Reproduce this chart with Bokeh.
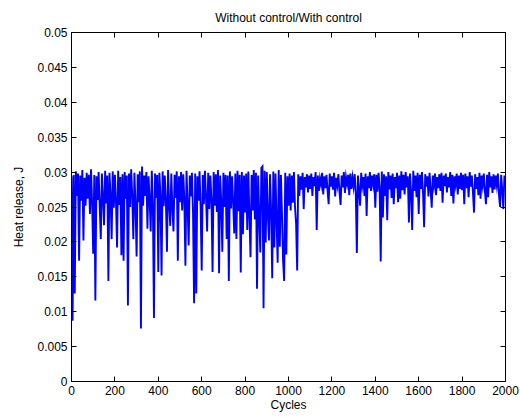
from bokeh.plotting import figure
from bokeh.models import Range1d, FixedTicker, LinearAxis, CustomJSTickFormatter
from bokeh.embed import file_html
from bokeh.resources import INLINE

heat_release = [
    # 0-95
    0.0294, 0.0087, 0.0296, 0.0126, 0.0301, 0.0266, 0.0298, 0.0173, 0.0295, 0.0259,
    0.0303, 0.0202, 0.0292, 0.0252, 0.0299, 0.0262, 0.0296, 0.0240, 0.0304, 0.0256,
    # 100-195
    0.0183, 0.0296, 0.0116, 0.0294, 0.0260, 0.0300, 0.0251, 0.0204, 0.0298, 0.0264,
    0.0224, 0.0302, 0.0255, 0.0295, 0.0144, 0.0299, 0.0267, 0.0204, 0.0301, 0.0249,
    # 200-295
    0.0296, 0.0258, 0.0192, 0.0302, 0.0253, 0.0293, 0.0181, 0.0297, 0.0173, 0.0300,
    0.0262, 0.0295, 0.0109, 0.0298, 0.0250, 0.0304, 0.0265, 0.0204, 0.0299, 0.0254,
    # 300-395
    0.0179, 0.0297, 0.0257, 0.0301, 0.0076, 0.0308, 0.0252, 0.0295, 0.0266, 0.0300,
    0.0219, 0.0294, 0.0261, 0.0215, 0.0302, 0.0255, 0.0091, 0.0298, 0.0263, 0.0296,
    # 400-495
    0.0157, 0.0299, 0.0266, 0.0152, 0.0301, 0.0251, 0.0295, 0.0259, 0.0186, 0.0303,
    0.0256, 0.0223, 0.0298, 0.0248, 0.0215, 0.0296, 0.0263, 0.0301, 0.0173, 0.0294,
    # 500-595
    0.0257, 0.0300, 0.0245, 0.0297, 0.0261, 0.0166, 0.0302, 0.0253, 0.0195, 0.0295,
    0.0265, 0.0299, 0.0242, 0.0112, 0.0298, 0.0126, 0.0294, 0.0259, 0.0301, 0.0250,
    # 600-695
    0.0159, 0.0296, 0.0254, 0.0302, 0.0263, 0.0215, 0.0299, 0.0247, 0.0295, 0.0260,
    0.0157, 0.0300, 0.0252, 0.0297, 0.0243, 0.0303, 0.0155, 0.0295, 0.0258, 0.0186,
    # 700-795
    0.0299, 0.0250, 0.0296, 0.0204, 0.0295, 0.0144, 0.0301, 0.0248, 0.0294, 0.0256,
    0.0212, 0.0298, 0.0204, 0.0302, 0.0244, 0.0296, 0.0156, 0.0300, 0.0211, 0.0295,
    # 800-895
    0.0242, 0.0298, 0.0217, 0.0301, 0.0236, 0.0178, 0.0296, 0.0245, 0.0303, 0.0232,
    0.0299, 0.0133, 0.0295, 0.0239, 0.0185, 0.0306, 0.0308, 0.0105, 0.0302, 0.0199,
    # 900-995
    0.0300, 0.0237, 0.0202, 0.0297, 0.0243, 0.0148, 0.0301, 0.0192, 0.0298, 0.0231,
    0.0170, 0.0303, 0.0193, 0.0296, 0.0240, 0.0173, 0.0144, 0.0299, 0.0182, 0.0294,
    # 1000-1095
    0.0252, 0.0298, 0.0245, 0.0295, 0.0256, 0.0300, 0.0250, 0.0226, 0.0159, 0.0297,
    0.0266, 0.0294, 0.0275, 0.0299, 0.0247, 0.0293, 0.0278, 0.0297, 0.0271, 0.0295,
    # 1100-1195
    0.0276, 0.0298, 0.0266, 0.0293, 0.0280, 0.0300, 0.0217, 0.0295, 0.0273, 0.0291,
    0.0282, 0.0299, 0.0268, 0.0294, 0.0277, 0.0296, 0.0274, 0.0254, 0.0298, 0.0279,
    # 1200-1295
    0.0294, 0.0275, 0.0299, 0.0265, 0.0292, 0.0281, 0.0297, 0.0272, 0.0253, 0.0295,
    0.0278, 0.0300, 0.0270, 0.0293, 0.0283, 0.0296, 0.0267, 0.0298, 0.0276, 0.0292,
    # 1300-1395
    0.0279, 0.0297, 0.0271, 0.0184, 0.0295, 0.0275, 0.0252, 0.0299, 0.0281, 0.0293,
    0.0266, 0.0298, 0.0237, 0.0294, 0.0277, 0.0300, 0.0273, 0.0295, 0.0282, 0.0297,
    # 1400-1495
    0.0249, 0.0296, 0.0272, 0.0299, 0.0279, 0.0172, 0.0301, 0.0235, 0.0297, 0.0266,
    0.0294, 0.0231, 0.0300, 0.0275, 0.0295, 0.0263, 0.0298, 0.0254, 0.0293, 0.0277,
    # 1500-1595
    0.0299, 0.0257, 0.0295, 0.0262, 0.0301, 0.0274, 0.0296, 0.0268, 0.0300, 0.0278,
    0.0294, 0.0228, 0.0298, 0.0271, 0.0217, 0.0302, 0.0273, 0.0295, 0.0264, 0.0299,
    # 1600-1695
    0.0240, 0.0296, 0.0276, 0.0300, 0.0270, 0.0221, 0.0297, 0.0279, 0.0294, 0.0265,
    0.0299, 0.0275, 0.0249, 0.0295, 0.0281, 0.0298, 0.0267, 0.0293, 0.0277, 0.0297,
    # 1700-1795
    0.0273, 0.0299, 0.0256, 0.0295, 0.0280, 0.0298, 0.0271, 0.0293, 0.0278, 0.0300,
    0.0266, 0.0296, 0.0255, 0.0294, 0.0282, 0.0298, 0.0268, 0.0295, 0.0276, 0.0299,
    # 1800-1895
    0.0274, 0.0296, 0.0254, 0.0298, 0.0277, 0.0294, 0.0264, 0.0300, 0.0279, 0.0295,
    0.0271, 0.0242, 0.0297, 0.0276, 0.0293, 0.0267, 0.0299, 0.0262, 0.0295, 0.0281,
    # 1900-1995
    0.0298, 0.0273, 0.0254, 0.0296, 0.0264, 0.0300, 0.0278, 0.0294, 0.0270, 0.0297,
    0.0275, 0.0295, 0.0281, 0.0298, 0.0267, 0.0250, 0.0296, 0.0274, 0.0247, 0.0295,
    # 2000
    0.0285,
]
cycles = list(range(0, 2001, 5))

x_ticks = [0, 200, 400, 600, 800, 1000, 1200, 1400, 1600, 1800, 2000]
y_ticks = [0, 0.005, 0.01, 0.015, 0.02, 0.025, 0.03, 0.035, 0.04, 0.045, 0.05]
y_tick_labels = ["0", "0.005", "0.01", "0.015", "0.02", "0.025", "0.03",
                 "0.035", "0.04", "0.045", "0.05"]

FONT = "Liberation Sans"

p = figure(width=520, height=417, output_backend="svg", toolbar_location=None,
           x_range=Range1d(0, 2000), y_range=Range1d(0, 0.05),
           min_border_left=71, min_border_right=15, min_border_top=32,
           min_border_bottom=36)
p.title.text = "Without control/With control"
p.title.align = "center"
p.title.text_font = FONT
p.title.text_font_size = "12px"
p.title.text_font_style = "normal"
p.title.text_color = "black"
p.title.standoff = 15

p.line(cycles, heat_release, line_color="#0000ff", line_width=1.9,
       line_join="miter")

p.xgrid.visible = False
p.ygrid.visible = False
p.outline_line_color = "black"
p.outline_line_width = 1
p.background_fill_color = "white"
p.border_fill_color = "white"

for ax in (p.xaxis[0], p.yaxis[0]):
    ax.major_tick_in = 5
    ax.major_tick_out = 0
    ax.minor_tick_in = 0
    ax.minor_tick_out = 0
    ax.axis_line_color = "black"
    ax.major_tick_line_color = "black"
    ax.major_label_text_font = FONT
    ax.major_label_text_font_size = "12px"
    ax.major_label_text_color = "black"
    ax.axis_label_text_font = FONT
    ax.axis_label_text_font_size = "12px"
    ax.axis_label_text_font_style = "normal"
    ax.axis_label_text_color = "black"
    ax.major_label_standoff = 4

p.xaxis[0].ticker = FixedTicker(ticks=x_ticks)
p.xaxis[0].axis_label = "Cycles"
p.xaxis[0].axis_label_standoff = 0
p.yaxis[0].ticker = FixedTicker(ticks=y_ticks)
p.yaxis[0].major_label_overrides = {t: s for t, s in zip(y_ticks, y_tick_labels)}
p.yaxis[0].axis_label = "Heat release, J"
p.yaxis[0].axis_label_standoff = 8

empty = CustomJSTickFormatter(code="return ''")
top = LinearAxis(ticker=FixedTicker(ticks=x_ticks), formatter=empty,
                 major_tick_in=5, major_tick_out=0, minor_tick_in=0, minor_tick_out=0,
                 major_label_standoff=0, major_label_text_font_size="1px",
                 axis_line_color="black")
right = LinearAxis(ticker=FixedTicker(ticks=y_ticks), formatter=empty,
                   major_tick_in=5, major_tick_out=0, minor_tick_in=0, minor_tick_out=0,
                   major_label_standoff=0, major_label_text_font_size="1px",
                   axis_line_color="black")
p.add_layout(top, "above")
p.add_layout(right, "right")

open("out.html", "w").write(file_html(p, INLINE))
